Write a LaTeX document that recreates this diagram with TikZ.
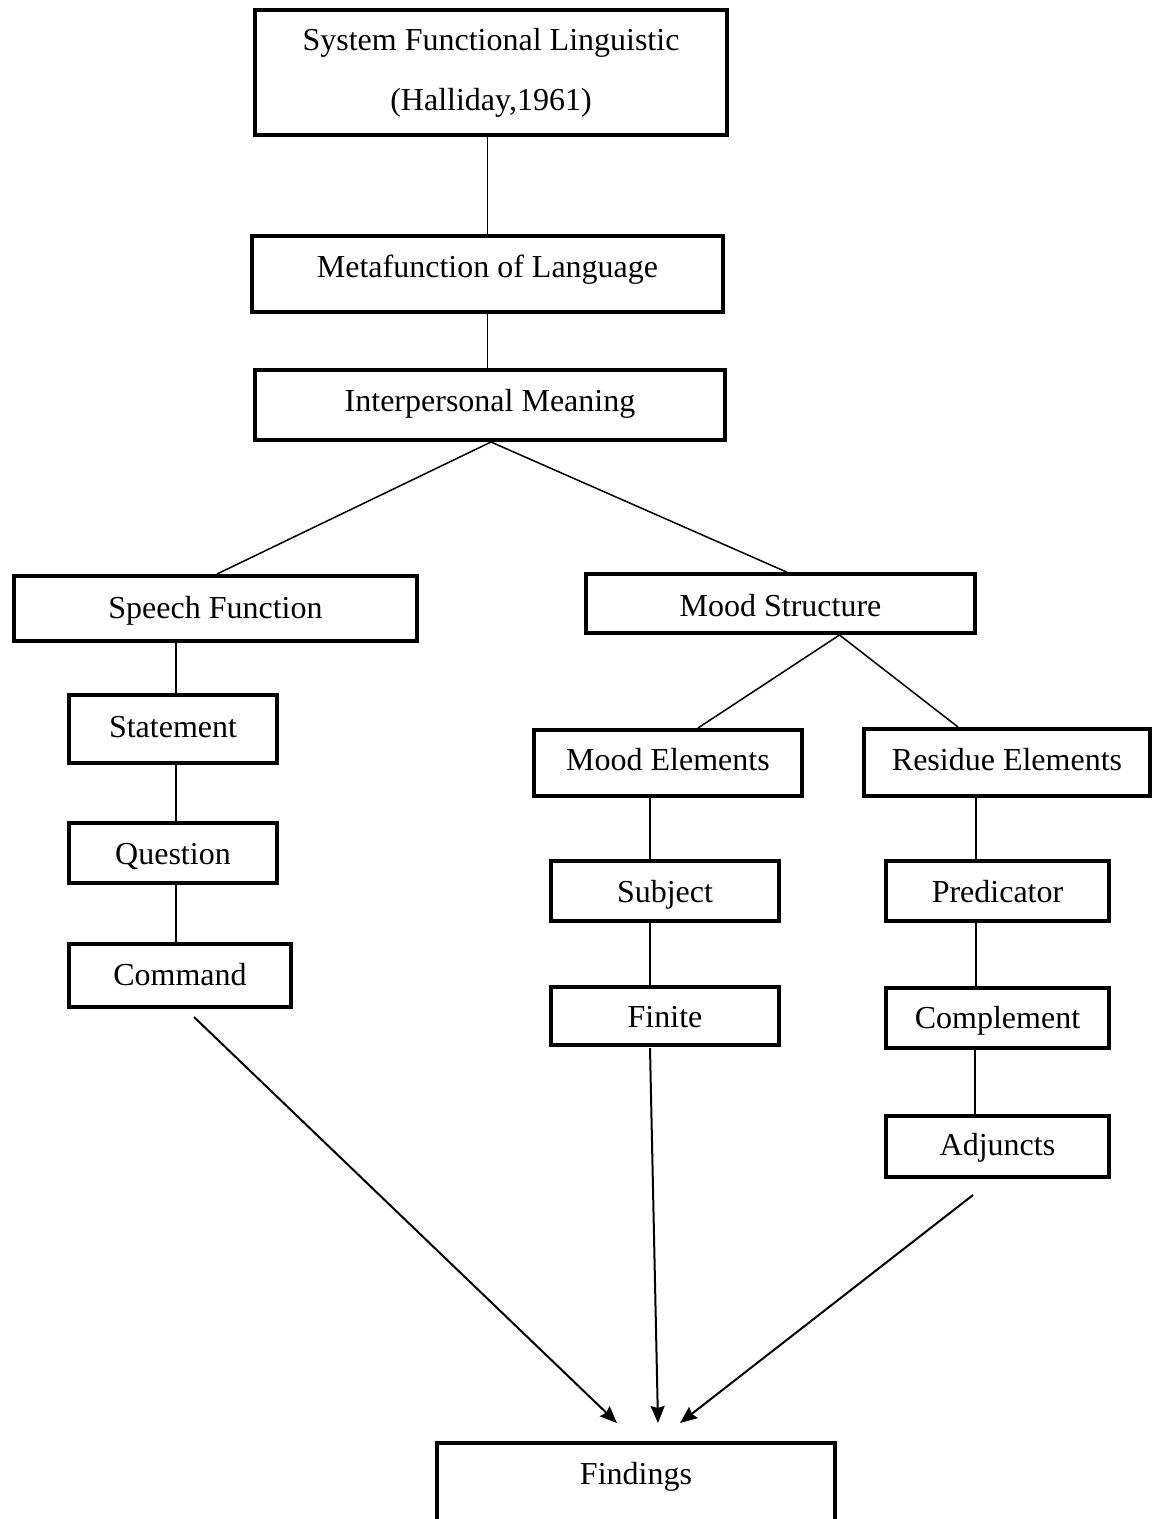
\documentclass[tikz,border=0pt]{standalone}
\usepackage{fontspec}
\setmainfont{Liberation Serif}
\usetikzlibrary{arrows.meta}
\newcommand\drawbox[7]{%
  \pgfmathsetmacro\bxw{#4-#2-4}%
  \pgfmathsetmacro\bxth{#6-#3-2}%
  \pgfmathsetmacro\bxtd{#5-2-#6}%
  \pgfmathsetmacro\bxcx{(#2+#4)/2}%
  \pgfmathsetmacro\bxty{#3+2}%
  \node[box, anchor=north, minimum width=\bxw pt, text height=\bxth pt, text depth=\bxtd pt] (#1) at (\bxcx,\bxty) {#7};%
}
\begin{document}
\begin{tikzpicture}[x=1pt,y=-1pt,
  box/.style={draw=black, line width=4pt, fill=white, inner xsep=0pt, inner ysep=0pt,
    font=\fontsize{32}{60}\selectfont},
  conn/.style={line width=1.5pt},
  arr/.style={line width=2pt, -{Stealth[length=17pt,width=14pt,inset=2pt]}}]
\useasboundingbox (0,0) rectangle (1160,1519);
\clip (0,0) rectangle (1160,1519);

% top box (two lines)
\node[box, align=center, minimum width=472pt, minimum height=125pt] (top) at (491,72.5)
  {System Functional Linguistic\\(Halliday,1961)};

\drawbox{meta}{250}{232}{725}{312}{275}{Metafunction of Language}
\drawbox{inter}{253}{366}{727}{440}{409}{Interpersonal Meaning}
\drawbox{speech}{12}{572}{419}{641}{616}{Speech Function}
\drawbox{mood}{584}{570}{977}{633}{614}{Mood Structure}
\drawbox{statement}{67}{691}{279}{763}{735}{Statement}
\drawbox{question}{67}{819}{279}{883}{862}{Question}
\drawbox{command}{67}{940}{293}{1007}{983}{Command}
\drawbox{moodel}{532}{726}{804}{796}{768}{Mood Elements}
\drawbox{residue}{862}{725}{1152}{796}{768}{Residue Elements}
\drawbox{subject}{549}{857}{781}{921}{900}{Subject}
\drawbox{finite}{549}{983}{781}{1045}{1025}{Finite}
\drawbox{predicator}{884}{857}{1111}{921}{900}{Predicator}
\drawbox{complement}{884}{984}{1111}{1048}{1026}{Complement}
\drawbox{adjuncts}{884}{1112}{1111}{1177}{1153}{Adjuncts}
\drawbox{findings}{435}{1439}{837}{1560}{1482}{Findings}

% connectors
\draw[conn] (meta.north |- top.south) -- (meta.north);
\draw[conn] (meta.south) -- (meta.south |- inter.north);
\draw[conn] ([xshift=1pt]inter.south) -- ([xshift=1.5pt]speech.north);
\draw[conn] ([xshift=1pt]inter.south) -- ([xshift=6pt]mood.north);
\draw[conn] ([xshift=59pt]mood.south) -- ([xshift=30pt]moodel.north);
\draw[conn] ([xshift=59pt]mood.south) -- ([xshift=-49pt]residue.north);
\draw[conn] ([xshift=3pt]statement.north) -- ([xshift=3pt]statement.north |- speech.south);
\draw[conn] ([xshift=3pt]statement.south) -- ([xshift=3pt]statement.south |- question.north);
\draw[conn] ([xshift=3pt]question.south) -- ([xshift=3pt]question.south |- command.north);
\draw[conn] ([xshift=-15pt]subject.north) -- ([xshift=-15pt]subject.north |- moodel.south);
\draw[conn] ([xshift=-15pt]subject.south) -- ([xshift=-15pt]subject.south |- finite.north);
\draw[conn] ([xshift=-21.5pt]predicator.north) -- ([xshift=-21.5pt]predicator.north |- residue.south);
\draw[conn] ([xshift=-21.5pt]predicator.south) -- ([xshift=-21.5pt]predicator.south |- complement.north);
\draw[conn] ([xshift=-22.5pt]complement.south) -- ([xshift=-22.5pt]complement.south |- adjuncts.north);

% arrows to findings
\coordinate (a1s) at (194,1017);
\coordinate (a1e) at (617,1423);
\coordinate (a2s) at (650,1048);
\coordinate (a2e) at (658,1423);
\coordinate (a3s) at (973,1195);
\coordinate (a3e) at (680,1423);
\draw[arr] (a1s) -- (a1e);
\draw[arr] (a2s) -- (a2e);
\draw[arr] (a3s) -- (a3e);
\end{tikzpicture}
\end{document}
